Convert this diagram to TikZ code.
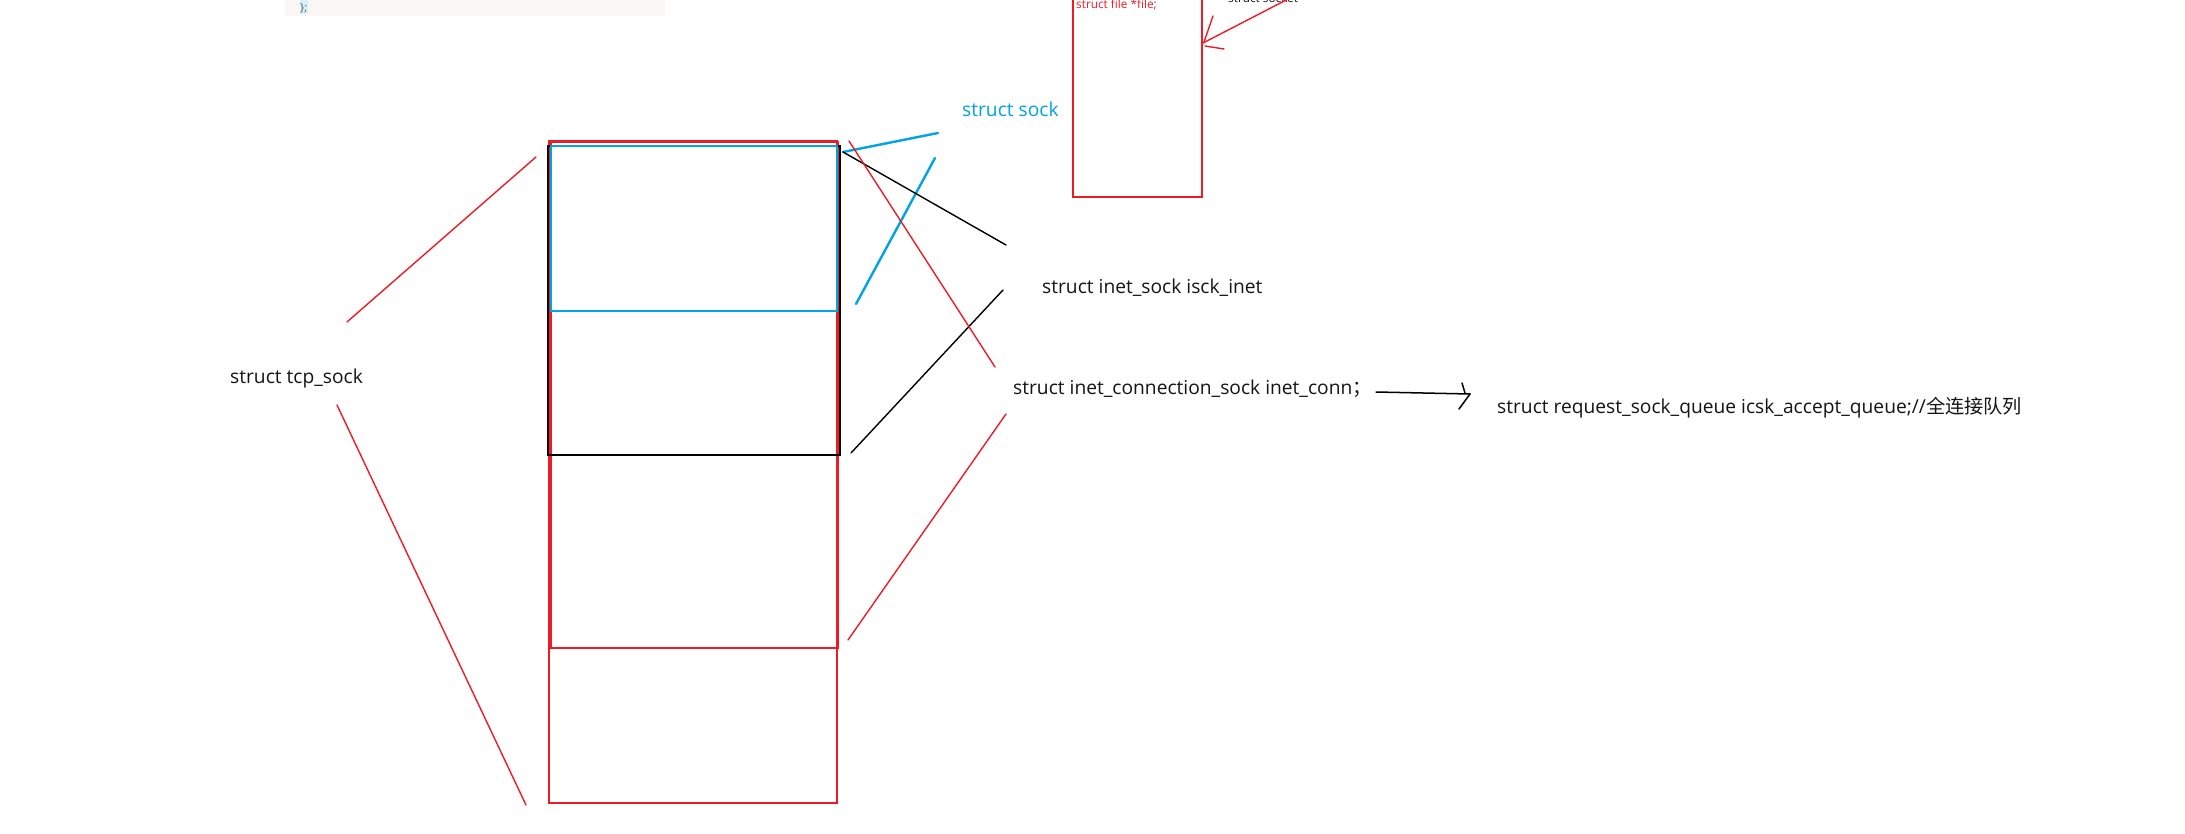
\documentclass[tikz,border=0pt]{standalone}
\usepackage{fontspec}
\setmainfont{Open Sans}
\newfontfamily\cjk{Noto Sans CJK SC}
\definecolor{pred}{RGB}{237,28,36}
\definecolor{pblue}{RGB}{0,162,232}
\definecolor{ptext}{RGB}{20,20,20}
\definecolor{paper}{RGB}{251,247,247}
\begin{document}
\begin{tikzpicture}[x=1pt,y=-1pt,
  redline/.style={draw=pred,line width=1.4pt,line cap=round},
  blueline/.style={draw=pblue,line width=2.4pt,line cap=round},
  blackline/.style={draw=black,line width=1.4pt,line cap=round},
  lbl/.style={anchor=base west,inner sep=0pt,text=ptext,font=\fontsize{19.2}{22}\selectfont},
  smalllbl/.style={anchor=base west,inner sep=0pt,font=\fontsize{11.8}{13}\selectfont}]
\useasboundingbox (0,0) rectangle (2185,834);
\clip (0,0) rectangle (2185,834);
% faint code snippet at top left
\fill[paper] (285,-2) rectangle (665,16);
\fill[pblue!15] (300,0) rectangle (308,14);
\node[anchor=base west,inner sep=0pt,text=gray!70!black,font=\fontsize{11}{12}\selectfont] (brace) at (300,12) {\};};
% struct file / socket box (top middle)
\draw[redline] (1073,-5) rectangle (1202,197);
\node[smalllbl,text=pred] (filelbl) at (1076,9) {struct file *file;};
\node[smalllbl,text=ptext] (socketlbl) at (1228,3) {struct socket};
\coordinate (sa) at (1292,-3);
\coordinate (sb) at (1203,43);
\draw[redline] (sa) -- (sb);
\draw[redline] (1213,16) -- (1204,42);
\draw[redline] (1205,46) -- (1224,49);
\fill[pred] (1202,30) circle (1.2);
% stacked structure rectangles
\draw[redline,line width=1.5pt] (549,141) rectangle (837,803);
\draw[redline,line width=1.5pt] (551,142) rectangle (838,648);
\draw[blackline,line width=1.6pt] (548,146) rectangle (840,455);
\draw[blueline,line width=2.6pt] (551,146) rectangle (837,311);
% labels
\node[lbl] (tcp) at (230,383) {struct tcp\_sock};
\node[lbl,text=pblue] (sock) at (962,117) {struct sock};
\node[lbl] (inet) at (1042,294) {struct inet\_sock isck\_inet};
\node[lbl] (conn) at (1013,394) {struct inet\_connection\_sock inet\_conn{\cjk ；}};
\node[lbl] (queue) at (1497,413) {struct request\_sock\_queue icsk\_accept\_queue;//{\cjk 全连接队列}};
% tcp_sock brackets
\coordinate (l1a) at (347,322); \coordinate (l1b) at (536,157);
\coordinate (l2a) at (337,405); \coordinate (l2b) at (526,805);
\draw[redline] (l1a) -- (l1b);
\draw[redline] (l2a) -- (l2b);
% struct sock brackets
\coordinate (b1a) at (843,152); \coordinate (b1b) at (938,133);
\coordinate (b2a) at (856,304); \coordinate (b2b) at (935,158);
\draw[blueline] (b1a) -- (b1b);
\draw[blueline] (b2a) -- (b2b);
% inet_sock brackets
\coordinate (k1b) at (1006,245); \coordinate (k2a) at (851,453); \coordinate (k2b) at (1003,290);
\draw[blackline] (b1a) -- (k1b);
\draw[blackline] (k2a) -- (k2b);
% inet_connection_sock brackets
\coordinate (r1a) at (849,141); \coordinate (r1b) at (995,367);
\coordinate (r2a) at (1006,414); \coordinate (r2b) at (848,640);
\draw[redline] (r1a) -- (r1b);
\draw[redline] (r2a) -- (r2b);
% arrow to accept queue
\coordinate (aa) at (1376,392); \coordinate (ab) at (1470,394);
\draw[blackline,line width=1.5pt] (aa) -- (ab);
\draw[blackline,line width=1.5pt] (1462,383) -- (1465,393);
\draw[blackline,line width=1.5pt] (ab) -- (1459,409);
\end{tikzpicture}
\end{document}
